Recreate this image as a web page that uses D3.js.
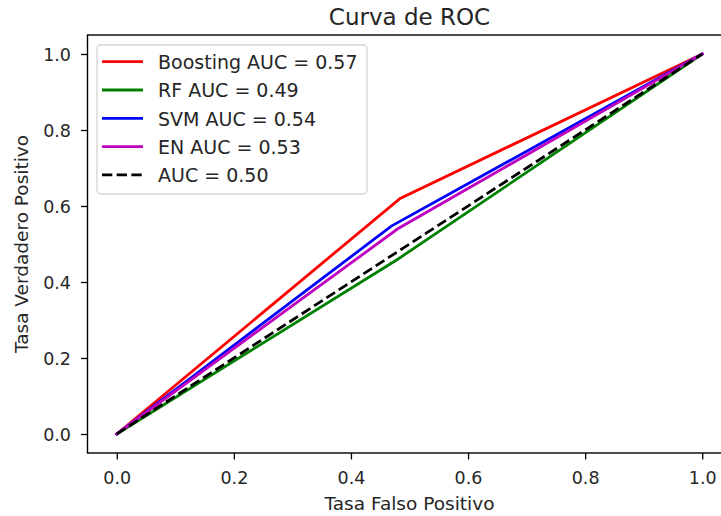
<!DOCTYPE html>
<html>
<head>
<meta charset="utf-8">
<script src="https://cdn.jsdelivr.net/npm/d3@7"></script>
<style>
  body { margin: 0; background: #fff; }
  text { font-family: "DejaVu Sans", sans-serif; fill: #262626; }
</style>
</head>
<body>
<script>
// ROC points per model: (0,0) -> knee -> (1,1)
var models = ['Boosting', 'RF', 'SVM', 'EN'];
var aucLabels = ['0.57', '0.49', '0.54', '0.53'];
var colors = ['#ff0000', '#008000', '#0000ff', '#bf00bf'];
var fprValues = [[0, 0.484, 1], [0, 0.48, 1], [0, 0.469, 1], [0, 0.48, 1]];
var tprValues = [[0, 0.62, 1], [0, 0.46, 1], [0, 0.547, 1], [0, 0.54, 1]];
var xTicks = [0, 0.2, 0.4, 0.6, 0.8, 1.0];
var yTicks = [0, 0.2, 0.4, 0.6, 0.8, 1.0];

function main() {
    var svgWidth = 721, svgHeight = 516;
    var left = 87.5, right = 731.5, top = 35, bottom = 453;

    var svg = d3.select('body').append('svg')
        .attr('width', svgWidth)
        .attr('height', svgHeight);

    var xScale = d3.scaleLinear().domain([-0.05, 1.05]).range([left, right]);
    var yScale = d3.scaleLinear().domain([-0.05, 1.05]).range([bottom, top]);

    var line = d3.line()
        .x(function(d){ return xScale(d[0]) })
        .y(function(d){ return yScale(d[1]) });

    // curves, drawn in order so later ones sit on top
    var plot = svg.append('g');
    models.forEach(function(name, i) {
        var pts = fprValues[i].map(function(f, j){ return [f, tprValues[i][j]] });
        plot.append('path').datum(pts)
            .attr('d', line)
            .attr('fill', 'none')
            .attr('stroke', colors[i])
            .attr('stroke-width', 2.8)
            .attr('stroke-linecap', 'square');
    });
    // chance line
    plot.append('path').datum([[0, 0], [1, 1]])
        .attr('d', line)
        .attr('fill', 'none')
        .attr('stroke', '#000')
        .attr('stroke-width', 2.8)
        .attr('stroke-dasharray', '10.3,4.4');

    // axes
    var xAxis = svg.append('g').attr('transform', `translate(0, ${bottom})`)
        .call(d3.axisBottom(xScale).tickValues(xTicks).tickFormat(d3.format('.1f')).tickSize(6.5).tickPadding(12))
    var yAxis = svg.append('g').attr('transform', `translate(${left}, 0)`)
        .call(d3.axisLeft(yScale).tickValues(yTicks).tickFormat(d3.format('.1f')).tickSize(6.5).tickPadding(10))
    ;[xAxis, yAxis].forEach(function(a) {
        a.select('.domain').remove();
        a.selectAll('.tick line').attr('stroke', '#000').attr('stroke-width', 1.3);
        a.selectAll('.tick text').attr('font-size', '17.5px').attr('fill', '#262626')
            .attr('font-family', 'DejaVu Sans, sans-serif');
    });
    yAxis.selectAll('.tick text').attr('dy', '0.36em');

    // frame
    svg.append('rect')
        .attr('x', left).attr('y', top)
        .attr('width', right - left).attr('height', bottom - top)
        .attr('fill', 'none').attr('stroke', '#000').attr('stroke-width', 1.4);

    // title and labels
    svg.append('text').attr('x', (left + right) / 2).attr('y', 25)
        .attr('text-anchor', 'middle').attr('font-size', '23px')
        .text('Curva de ROC');
    svg.append('text').attr('x', (left + right) / 2).attr('y', 510)
        .attr('text-anchor', 'middle').attr('font-size', '18.5px')
        .text('Tasa Falso Positivo');
    svg.append('text').attr('transform', `translate(28, ${(top + bottom) / 2}) rotate(-90)`)
        .attr('text-anchor', 'middle').attr('font-size', '18.5px')
        .text('Tasa Verdadero Positivo');

    // legend
    var legend = svg.append('g');
    legend.append('rect')
        .attr('x', 97).attr('y', 45).attr('width', 270).attr('height', 149)
        .attr('rx', 4).attr('fill', '#fff').attr('fill-opacity', 0.8)
        .attr('stroke', '#d6d6d6').attr('stroke-width', 1.4);
    var entries = models.map(function(m, i){ return {label: m + ' AUC = ' + aucLabels[i], color: colors[i], dash: null} });
    entries.push({label: 'AUC = 0.50', color: '#000', dash: '10.3,4.4'});
    entries.forEach(function(e, i) {
        var cy = 61.7 + i * 28.3;
        legend.append('line')
            .attr('x1', 102).attr('x2', 143).attr('y1', cy).attr('y2', cy)
            .attr('stroke', e.color).attr('stroke-width', 2.8)
            .attr('stroke-dasharray', e.dash);
        legend.append('text')
            .attr('x', 158).attr('y', cy + 7.4)
            .attr('font-size', '19px')
            .text(e.label);
    });
}
main();
</script>
</body>
</html>
